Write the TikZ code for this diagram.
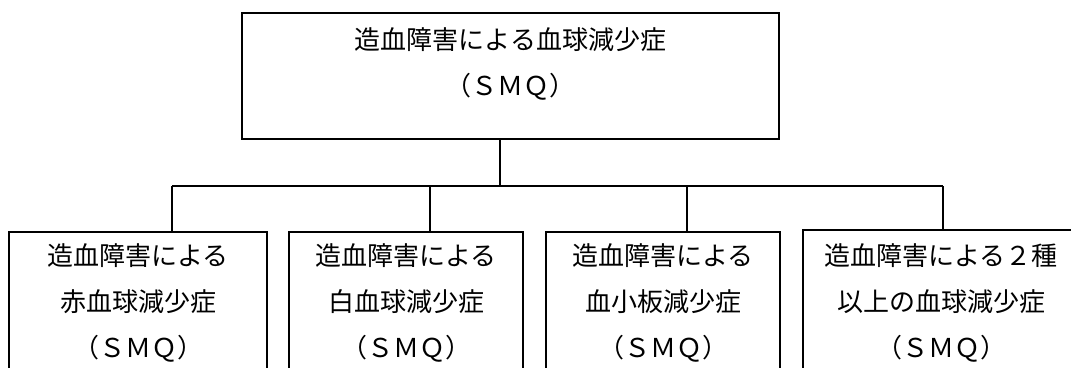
\documentclass[tikz,border=0pt]{standalone}
\usepackage{fontspec}
\setmainfont{Noto Sans CJK JP}
\begin{document}
\begin{tikzpicture}[x=1pt,y=-1pt,
  box/.style={draw,line width=1.3pt,inner sep=0pt},
  lbl/.style={align=center,font=\fontsize{26}{46}\selectfont,inner sep=0pt},
  link/.style={line width=1.3pt}]
\useasboundingbox (0,0) rectangle (1071,367);
\clip (0,0) rectangle (1071,367);
% top box
\node[box, minimum width=537pt, minimum height=126pt] (top) at (510.5,76) {};
\node[lbl] (toptext) at (510.5,64) {造血障害による血球減少症\\（ＳＭＱ）};
% bottom boxes (extend below the page)
\node[box, minimum width=258pt, minimum height=188pt] (b1) at (138,326) {};
\node[box, minimum width=234pt, minimum height=188pt] (b2) at (406,326) {};
\node[box, minimum width=234pt, minimum height=188pt] (b3) at (663,326) {};
\node[box, minimum width=280pt, minimum height=190pt] (b4) at (943,325) {};
\node[lbl] (t1) at (138,303) {造血障害による\\赤血球減少症\\（ＳＭＱ）};
\node[lbl] (t2) at (406,303) {造血障害による\\白血球減少症\\（ＳＭＱ）};
\node[lbl] (t3) at (663,303) {造血障害による\\血小板減少症\\（ＳＭＱ）};
\node[lbl] (t4) at (941,303) {造血障害による２種\\以上の血球減少症\\（ＳＭＱ）};
% connectors
\coordinate (hub) at (500,186);
\coordinate (c1) at (172,186);
\coordinate (c2) at (430,186);
\coordinate (c3) at (687,186);
\coordinate (c4) at (943,186);
\draw[link] (top.south -| hub) -- (hub);
\draw[link] (c1) -- (c4);
\draw[link] (c1) -- (c1 |- b1.north);
\draw[link] (c2) -- (c2 |- b2.north);
\draw[link] (c3) -- (c3 |- b3.north);
\draw[link] (c4) -- (c4 |- b4.north);
\end{tikzpicture}
\end{document}
